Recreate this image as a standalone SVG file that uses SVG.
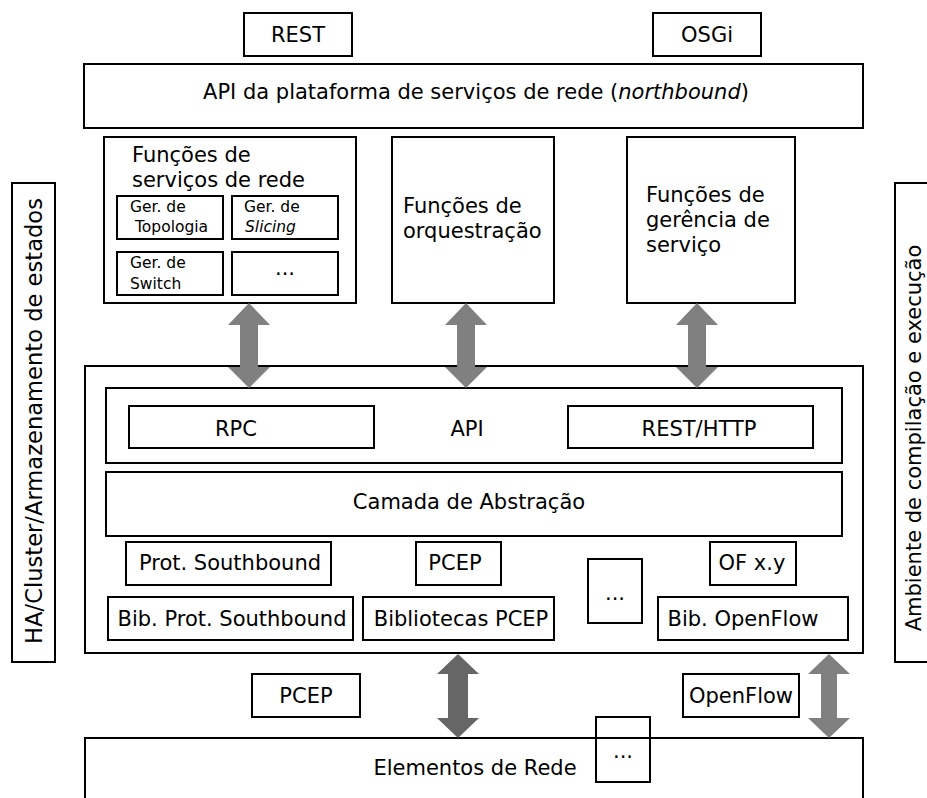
<svg xmlns="http://www.w3.org/2000/svg" width="927" height="798" viewBox="0 0 927 798">
  <style>
    .box { fill: #ffffff; stroke: #000000; stroke-width: 2; }
    .open { fill: none; stroke: #000000; stroke-width: 2; }
    text { font-family: "DejaVu Sans", "Liberation Sans", sans-serif; fill: #000000; }
    .t21 { font-size: 21px; }
    .t15 { font-size: 15.5px; }
    .mid { text-anchor: middle; }
    .arrow { fill: #808080; }
    .arrow-dark { fill: #666666; }
  </style>

  <rect width="927" height="798" fill="#ffffff"/>

  <!-- northbound interfaces -->
  <g id="rest">
    <rect class="box" x="244" y="13" width="108" height="43"/>
    <text class="t21 mid" x="298" y="42">REST</text>
  </g>
  <g id="osgi">
    <rect class="box" x="653" y="13" width="108" height="43"/>
    <text class="t21 mid" x="707" y="42">OSGi</text>
  </g>
  <g id="api-northbound">
    <rect class="box" x="84" y="64" width="779" height="64"/>
    <text class="t21 mid" x="476" y="99">API da plataforma de serviços de rede (<tspan font-style="italic">northbound</tspan>)</text>
  </g>

  <!-- side columns -->
  <g id="ha-cluster">
    <rect class="box" x="12" y="183" width="43" height="479"/>
    <text class="mid" transform="translate(42 421) rotate(-90)" font-size="22.6">HA/Cluster/Armazenamento de estados</text>
  </g>
  <g id="ambiente">
    <rect class="box" x="895" y="183" width="50" height="479"/>
    <text class="t21 mid" transform="translate(921 438) rotate(-90)">Ambiente de compilação e execução</text>
  </g>

  <!-- application functions -->
  <g id="servicos-rede">
    <rect class="box" x="104" y="137" width="252" height="166"/>
    <text class="t21" x="132" y="162">Funções de</text>
    <text class="t21" x="132" y="187">serviços de rede</text>
    <g id="ger-topologia">
      <rect class="box" x="117" y="196" width="106" height="43"/>
      <text class="t15" x="130" y="212">Ger. de</text>
      <text class="t15" x="135" y="232">Topologia</text>
    </g>
    <g id="ger-slicing">
      <rect class="box" x="232" y="196" width="106" height="43"/>
      <text class="t15" x="244" y="212">Ger. de</text>
      <text class="t15" x="245" y="232" font-style="italic">Slicing</text>
    </g>
    <g id="ger-switch">
      <rect class="box" x="117" y="252" width="106" height="43"/>
      <text class="t15" x="130" y="268">Ger. de</text>
      <text class="t15" x="130" y="289">Switch</text>
    </g>
    <g id="ger-outros">
      <rect class="box" x="232" y="252" width="106" height="43"/>
      <text class="t21 mid" x="285" y="275">...</text>
    </g>
  </g>
  <g id="orquestracao">
    <rect class="box" x="392" y="137" width="162" height="166"/>
    <text class="t21" x="403" y="213">Funções de</text>
    <text class="t21" x="403" y="238">orquestração</text>
  </g>
  <g id="gerencia-servico">
    <rect class="box" x="627" y="137" width="168" height="166"/>
    <text class="t21" x="646" y="202">Funções de</text>
    <text class="t21" x="646" y="227">gerência de</text>
    <text class="t21" x="646" y="252">serviço</text>
  </g>

  <!-- controller core -->
  <g id="controlador">
    <rect class="box" x="85" y="366" width="778" height="287"/>
    <g id="api">
      <rect class="box" x="106" y="388" width="736" height="75"/>
      <text class="t21 mid" x="467" y="436">API</text>
      <g id="rpc">
        <rect class="box" x="129" y="406" width="245" height="42"/>
        <text class="t21 mid" x="236" y="436">RPC</text>
      </g>
      <g id="rest-http">
        <rect class="box" x="568" y="406" width="245" height="42"/>
        <text class="t21 mid" x="699" y="436">REST/HTTP</text>
      </g>
    </g>
    <g id="camada-abstracao">
      <rect class="box" x="106" y="472" width="736" height="64"/>
      <text class="t21 mid" x="469" y="509">Camada de Abstração</text>
    </g>
    <g id="prot-southbound">
      <rect class="box" x="126" y="542" width="205" height="43"/>
      <text class="t21 mid" x="230" y="570">Prot. Southbound</text>
    </g>
    <g id="pcep-prot">
      <rect class="box" x="416" y="542" width="85" height="43"/>
      <text class="t21 mid" x="455" y="570">PCEP</text>
    </g>
    <g id="of-xy">
      <rect class="box" x="710" y="542" width="86" height="43"/>
      <text class="t21 mid" x="752" y="570">OF x.y</text>
    </g>
    <g id="bib-southbound">
      <rect class="box" x="108" y="597" width="245" height="43"/>
      <text class="t21 mid" x="232" y="626">Bib. Prot. Southbound</text>
    </g>
    <g id="bib-pcep">
      <rect class="box" x="363" y="597" width="191" height="43"/>
      <text class="t21 mid" x="461" y="626">Bibliotecas PCEP</text>
    </g>
    <g id="bib-outros">
      <rect class="box" x="588" y="559" width="54" height="64"/>
      <text class="t21 mid" x="615" y="600">...</text>
    </g>
    <g id="bib-openflow">
      <rect class="box" x="658" y="597" width="190" height="43"/>
      <text class="t21 mid" x="743" y="626">Bib. OpenFlow</text>
    </g>
  </g>

  <!-- southbound protocols and network -->
  <g id="pcep">
    <rect class="box" x="252" y="674" width="108" height="43"/>
    <text class="t21 mid" x="306" y="703">PCEP</text>
  </g>
  <g id="openflow">
    <rect class="box" x="683" y="674" width="116" height="43"/>
    <text class="t21 mid" x="741" y="703">OpenFlow</text>
  </g>
  <g id="elementos-rede">
    <rect class="box" x="85" y="738" width="778" height="80"/>
    <text class="t21 mid" x="475" y="775">Elementos de Rede</text>
  </g>
  <g id="elementos-outros">
    <rect class="open" x="596" y="717" width="54" height="65"/>
    <text class="t21 mid" x="623" y="758">...</text>
  </g>

  <!-- bidirectional connectors -->
  <g id="connectors">
    <polygon class="arrow" points="249,303 270,325 258,325 258,367 270,367 249,388 228,367 240,367 240,325 228,325"/>
    <polygon class="arrow" points="466,303 487,325 475,325 475,367 487,367 466,388 445,367 457,367 457,325 445,325"/>
    <polygon class="arrow" points="697,303 718,325 706,325 706,367 718,367 697,388 676,367 688,367 688,325 676,325"/>
    <polygon class="arrow-dark" points="458,654 479,674 468,674 468,718 479,718 458,738 437,718 448,718 448,674 437,674"/>
    <polygon class="arrow" points="829,654 850,674 837,674 837,718 850,718 829,738 808,718 821,718 821,674 808,674"/>
  </g>
</svg>
